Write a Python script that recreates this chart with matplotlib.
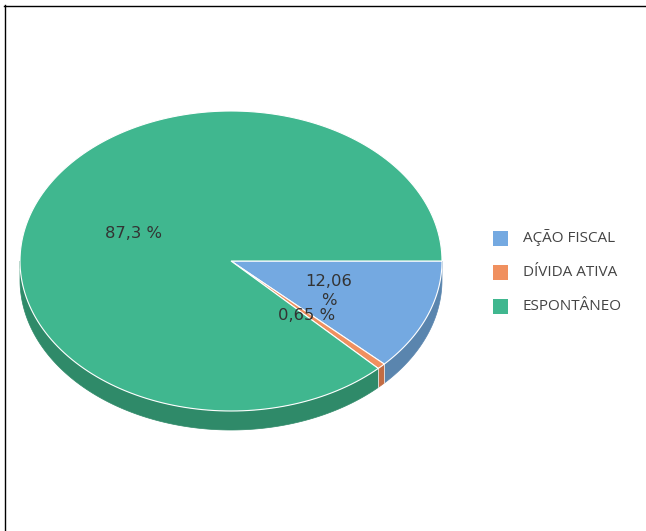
import numpy as np
import matplotlib
matplotlib.use("Agg")
import matplotlib.pyplot as plt
from matplotlib.patches import Polygon, Rectangle

categories = ["AÇÃO FISCAL", "DÍVIDA ATIVA", "ESPONTÂNEO"]
shares = [12.06, 0.65, 87.3]
top_colors = ["#74a9e1", "#f0905f", "#40b78f"]
side_colors = ["#5a85ae", "#c26c44", "#2f8a69"]

# pie geometry in pixel units (y grows downward)
CX, CY = 231, 261
RX, RY = 211, 150
DEPTH = 19


def rim(a0, a1, n=200):
    t = np.radians(np.linspace(a0, a1, n))
    return np.column_stack([CX + RX * np.cos(t), CY + RY * np.sin(t)])


def fmt(v):
    return format(v, "g").replace(".", ",")


fig = plt.figure(figsize=(6.46, 5.31), dpi=100)
ax = fig.add_axes([0, 0, 1, 1])
ax.set_xlim(0, 646)
ax.set_ylim(531, 0)
ax.axis("off")

total = sum(shares)
bounds = np.concatenate([[0], np.cumsum(shares) / total * 360])

# front side walls (only the part facing the viewer, 0..180 deg)
for i in range(len(shares)):
    a0, a1 = max(bounds[i], 0), min(bounds[i + 1], 180)
    if a1 <= a0:
        continue
    top = rim(a0, a1)
    bot = top[::-1] + [0, DEPTH]
    ax.add_patch(Polygon(np.vstack([top, bot]), closed=True,
                         facecolor=side_colors[i], edgecolor=side_colors[i],
                         lw=0.5, zorder=1))
    # light seam where a wall ends
    if bounds[i + 1] < 180:
        x, y = rim(a1, a1, 1)[0]
        ax.plot([x, x], [y, y + DEPTH], color="#e8e8e8", lw=0.6, zorder=2)

# top faces
for i in range(len(shares)):
    pts = np.vstack([[CX, CY], rim(bounds[i], bounds[i + 1])])
    ax.add_patch(Polygon(pts, closed=True, facecolor=top_colors[i],
                         edgecolor="white", lw=0.8, zorder=3))
    mid = np.radians((bounds[i] + bounds[i + 1]) / 2)
    lx, ly = CX + 0.5 * RX * np.cos(mid), CY + 0.5 * RY * np.sin(mid) + 2
    label = f"{fmt(shares[i])} %"
    if i == 0:
        label = f"{fmt(shares[i])}\n%"
    ax.text(lx, ly, label, ha="center", va="center", fontsize=11.8,
            color="#333333", linespacing=1.3, zorder=5)

# legend
for i, name in enumerate(categories):
    y = 238 + 34 * i
    ax.add_patch(Rectangle((493, y - 7.5), 15, 15, facecolor=top_colors[i],
                           edgecolor="none"))
    ax.text(523, y, name, ha="left", va="center", fontsize=11,
            family="Open Sans", color="#444444")

# frame lines on the left and top
ax.plot([4.5, 4.5], [5, 531], color="black", lw=1.0)
ax.plot([4, 646], [5.5, 5.5], color="black", lw=1.0)

fig.savefig("out.png", dpi=100)
